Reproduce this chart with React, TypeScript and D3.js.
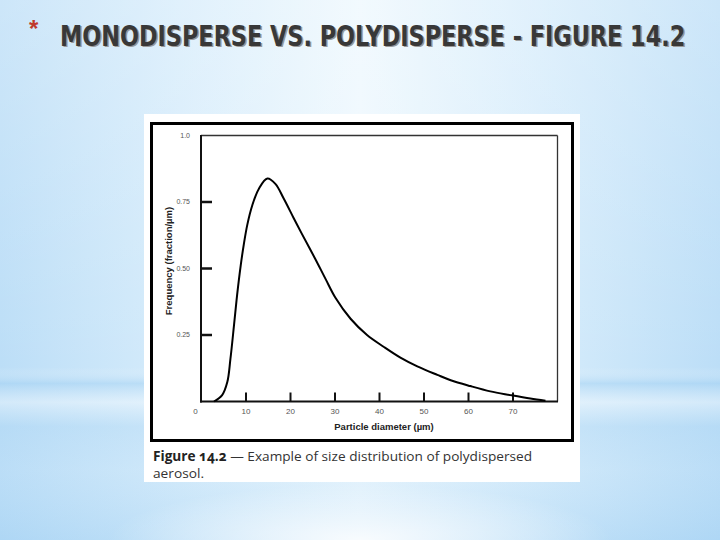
import React, { useEffect, useRef, useState } from 'react';
import * as d3 from 'd3';

const diameters = [2.8, 4.6, 5.8, 6.5, 7.3, 8.0, 8.8, 9.5, 10.3, 11.4, 12.9, 14.8, 16.6, 18.5, 20.7, 22.5, 25.6, 27.9, 30.1, 33.5, 37.2, 41.0, 44.7, 48.5, 53.0, 56.0, 60.4, 64.9, 69.4, 73.9, 77.3];
const frequency = [0, 0.023, 0.073, 0.16, 0.286, 0.4, 0.51, 0.59, 0.665, 0.737, 0.8, 0.838, 0.818, 0.762, 0.69, 0.632, 0.535, 0.46, 0.39, 0.311, 0.25, 0.205, 0.165, 0.132, 0.1, 0.08, 0.058, 0.038, 0.024, 0.011, 0.003];

const xTickValues = [0, 10, 20, 30, 40, 50, 60, 70];
const xTickLabels = ['0', '10', '20', '30', '40', '50', '60', '70'];
const yTickValues = [0.25, 0.5, 0.75, 1.0];
const yTickLabels = ['0.25', '0.50', '0.75', '1.0'];

const titleText = 'MONODISPERSE VS. POLYDISPERSE - FIGURE 14.2';
const xAxisTitle = 'Particle diameter (µm)';
const yAxisTitle = 'Frequency (fraction/µm)';
const captionBold = 'Figure 14.2';
const captionRest = ' — Example of size distribution of polydispersed';
const captionLine2 = 'aerosol.';

const TITLE_WIDTH = 625;

export default function App() {
  const titleRef = useRef<SVGTextElement | null>(null);
  const [titleScale, setTitleScale] = useState(0.83);

  useEffect(() => {
    if (titleRef.current) {
      const w = titleRef.current.getComputedTextLength();
      if (w > 0) setTitleScale(TITLE_WIDTH / w);
    }
  }, []);

  const x = d3.scaleLinear().domain([0, 80]).range([201.5, 557.5]);
  const y = d3.scaleLinear().domain([0, 1]).range([401.5, 135.5]);
  const pts = diameters.map((d, i) => [d, frequency[i]] as [number, number]);
  const line = d3
    .line<[number, number]>()
    .x((d) => x(d[0]))
    .y((d) => y(d[1]))
    .curve(d3.curveCatmullRom.alpha(0.5));

  const sans = '"Liberation Sans", Arial, sans-serif';
  const titleFont = '"DejaVu Sans Condensed", "DejaVu Sans", sans-serif';
  return (
    <svg
      width={720}
      height={540}
      viewBox="0 0 720 540"
      style={{ position: 'absolute', left: 0, top: 0, display: 'block' }}
    >
      <defs>
        <linearGradient id="bgH" x1="0" y1="0" x2="1" y2="0">
          <stop offset="0" stopColor="#bcdef7" />
          <stop offset="0.25" stopColor="#d6ecfb" />
          <stop offset="0.5" stopColor="#eef8fe" />
          <stop offset="0.75" stopColor="#d6ecfb" />
          <stop offset="1" stopColor="#bcdef7" />
        </linearGradient>
        <linearGradient id="bgV" x1="0" y1="0" x2="0" y2="1">
          <stop offset="0" stopColor="#ffffff" stopOpacity="0.25" />
          <stop offset="0.4" stopColor="#ffffff" stopOpacity="0.1" />
          <stop offset="0.68" stopColor="#ffffff" stopOpacity="0" />
          <stop offset="0.71" stopColor="#9fcff2" stopOpacity="0.45" />
          <stop offset="0.745" stopColor="#ffffff" stopOpacity="0.35" />
          <stop offset="0.79" stopColor="#a9d4f3" stopOpacity="0.3" />
          <stop offset="0.87" stopColor="#b3d9f5" stopOpacity="0.15" />
          <stop offset="1" stopColor="#8ec6f0" stopOpacity="0.3" />
        </linearGradient>
        <radialGradient id="bgBottom" cx="0.5" cy="1" r="0.35">
          <stop offset="0" stopColor="#ffffff" stopOpacity="0.85" />
          <stop offset="1" stopColor="#ffffff" stopOpacity="0" />
        </radialGradient>
      </defs>

      <rect x={0} y={0} width={720} height={540} fill="url(#bgH)" />
      <rect x={0} y={0} width={720} height={540} fill="url(#bgV)" />
      <rect x={0} y={380} width={720} height={160} fill="url(#bgBottom)" />

      <text x={29} y={37} fontFamily={sans} fontWeight="bold" fontSize={24} fill="#c0392b">
        *
      </text>
      <g transform={`translate(61.5, 47) scale(${titleScale}, 1)`}>
        <text x={0} y={0} fontFamily={titleFont} fontWeight="bold" fontSize={29} fill="#999">
          {titleText}
        </text>
      </g>
      <g transform={`translate(60, 46) scale(${titleScale}, 1)`}>
        <text
          ref={titleRef}
          x={0}
          y={0}
          fontFamily={titleFont}
          fontWeight="bold"
          fontSize={29}
          fill="#383838"
        >
          {titleText}
        </text>
      </g>

      <rect x={144} y={114} width={436} height={368} fill="#ffffff" />
      <rect x={151.5} y={123.5} width={421} height={317} fill="none" stroke="#000" strokeWidth={3} />

      <line x1={201} x2={557.5} y1={y(1)} y2={y(1)} stroke="#333" strokeWidth={1.3} />
      <line x1={x(80)} x2={x(80)} y1={y(1)} y2={y(0)} stroke="#333" strokeWidth={1.3} />
      <line x1={201} x2={201} y1={y(1) - 0.6} y2={y(0) + 1} stroke="#111" strokeWidth={2} />
      <line x1={200} x2={558} y1={y(0)} y2={y(0)} stroke="#111" strokeWidth={2} />

      {yTickValues.map((v, i) => (
        <g key={'y' + i}>
          {v < 1 && <line x1={201} x2={212} y1={y(v)} y2={y(v)} stroke="#111" strokeWidth={2.5} />}
          <text
            x={190}
            y={y(v)}
            dy="0.35em"
            textAnchor="end"
            fontFamily={sans}
            fontSize={7}
            fill="#555"
          >
            {yTickLabels[i]}
          </text>
        </g>
      ))}

      {xTickValues.map((v, i) => (
        <g key={'x' + i}>
          {v > 0 && <line x1={x(v)} x2={x(v)} y1={y(0)} y2={y(0) - 9} stroke="#111" strokeWidth={2} />}
          <text
            x={x(v) + (v === 0 ? -6 : 0)}
            y={414}
            textAnchor="middle"
            fontFamily={sans}
            fontSize={8}
            fill="#555"
          >
            {xTickLabels[i]}
          </text>
        </g>
      ))}

      <path d={line(pts) || ''} fill="none" stroke="#000" strokeWidth={2} strokeLinejoin="round" />

      <text
        x={384}
        y={429.5}
        textAnchor="middle"
        fontFamily={sans}
        fontWeight="bold"
        fontSize={9.5}
        fill="#222"
      >
        {xAxisTitle}
      </text>
      <text
        transform={`translate(172, 261) rotate(-90)`}
        textAnchor="middle"
        fontFamily={sans}
        fontWeight="bold"
        fontSize={9.5}
        fill="#222"
      >
        {yAxisTitle}
      </text>

      <text
        x={153}
        y={460.5}
        fontFamily='"Open Sans", "Noto Sans", sans-serif'
        fontSize={13.5}
        fill="#333"
        textLength={379}
        lengthAdjust="spacingAndGlyphs"
        style={{ fontVariantNumeric: 'oldstyle-nums' }}
      >
        <tspan fontWeight="bold" fill="#222">{captionBold}</tspan>
        <tspan>{captionRest}</tspan>
      </text>
      <text
        x={153}
        y={477.5}
        fontFamily='"Open Sans", "Noto Sans", sans-serif'
        fontSize={13.5}
        fill="#333"
        textLength={51}
        lengthAdjust="spacingAndGlyphs"
      >
        {captionLine2}
      </text>
    </svg>
  );
}
